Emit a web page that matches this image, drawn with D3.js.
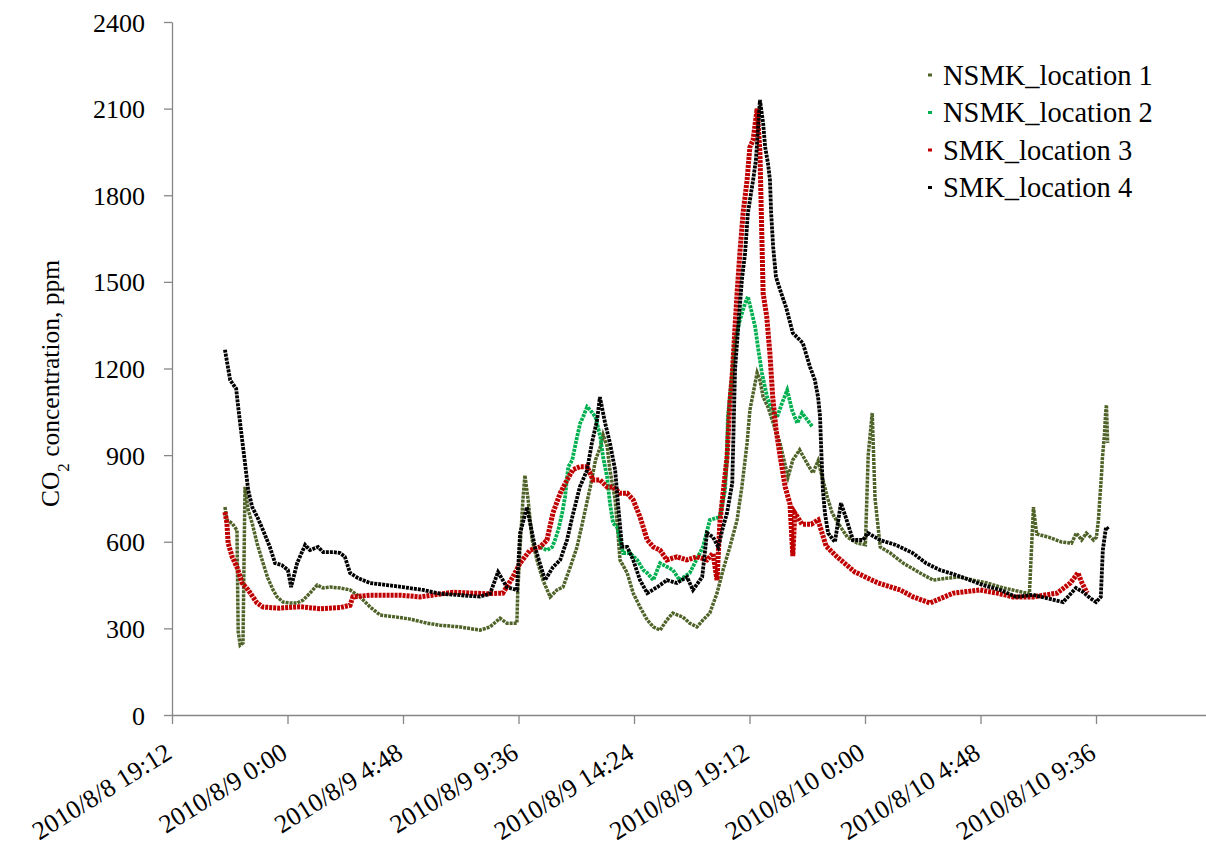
<!DOCTYPE html>
<html>
<head>
<meta charset="utf-8">
<script src="https://cdn.jsdelivr.net/npm/d3@7"></script>
<style>
  body { margin: 0; background: #fff; }
  svg { font-family: "Liberation Serif", "Times New Roman", serif; }
  .axis path, .axis line { stroke: #868686; stroke-width: 1.3; }
  .axis text { fill: #000; }
</style>
</head>
<body>
<div id="app"></div>
<script>
// series names + colours
var seriesNames = ["NSMK_location 1", "NSMK_location 2", "SMK_location 3", "SMK_location 4"];
var seriesColors = ["#4F6228", "#00B050", "#C00000", "#000000"];

// x tick labels (every 4h48)
var tickLabels = ["2010/8/8 19:12", "2010/8/9 0:00", "2010/8/9 4:48", "2010/8/9 9:36", "2010/8/9 14:24",
                  "2010/8/9 19:12", "2010/8/10 0:00", "2010/8/10 4:48", "2010/8/10 9:36"];
var yTicks = [0, 300, 600, 900, 1200, 1500, 1800, 2100, 2400];

// NSMK_location 1
var loc1Times = ["8/8 21:24","8/8 21:29","8/8 21:42","8/8 21:54","8/8 21:57","8/8 22:02","8/8 22:09","8/8 22:14","8/8 22:22","8/8 22:32",
  "8/8 22:44","8/8 22:59","8/8 23:11","8/8 23:24","8/8 23:34","8/8 23:49","8/9 0:06","8/9 0:24","8/9 0:39","8/9 0:56",
  "8/9 1:14","8/9 1:29","8/9 1:46","8/9 2:11","8/9 2:36","8/9 3:01","8/9 3:26","8/9 3:51","8/9 4:33","8/9 5:06",
  "8/9 5:48","8/9 6:20","8/9 7:10","8/9 8:00","8/9 8:25","8/9 8:50","8/9 9:07","8/9 9:32","8/9 9:34","8/9 9:40",
  "8/9 9:47","8/9 9:52","8/9 10:00","8/9 10:10","8/9 10:22","8/9 10:37","8/9 10:55","8/9 11:12","8/9 11:27","8/9 11:45",
  "8/9 12:02","8/9 12:17","8/9 12:35","8/9 12:48","8/9 13:00","8/9 13:07","8/9 13:17","8/9 13:24","8/9 13:37","8/9 13:44",
  "8/9 13:49","8/9 14:07","8/9 14:22","8/9 14:39","8/9 14:57","8/9 15:12","8/9 15:29","8/9 15:46","8/9 16:01","8/9 16:26",
  "8/9 16:43","8/9 17:01","8/9 17:16","8/9 17:33","8/9 17:51","8/9 18:06","8/9 18:23","8/9 18:41","8/9 18:53","8/9 19:06",
  "8/9 19:13","8/9 19:31","8/9 19:38","8/9 19:46","8/9 19:58","8/9 20:11","8/9 20:28","8/9 20:48","8/9 21:00","8/9 21:17",
  "8/9 21:35","8/9 21:50","8/9 22:03","8/9 22:26","8/9 22:38","8/9 22:53","8/9 23:16","8/9 23:41","8/10 0:01","8/10 0:08",
  "8/10 0:18","8/10 0:25","8/10 0:38","8/10 1:03","8/10 1:35","8/10 2:17","8/10 2:50","8/10 3:25","8/10 3:57","8/10 4:30",
  "8/10 5:05","8/10 5:45","8/10 6:50","8/10 7:00","8/10 7:08","8/10 7:38","8/10 8:10","8/10 8:35","8/10 8:47","8/10 9:00",
  "8/10 9:12","8/10 9:30","8/10 9:37","8/10 9:42","8/10 9:45","8/10 9:50","8/10 9:52","8/10 9:57","8/10 10:00","8/10 10:02","8/10 10:05"];
var loc1Values = [720,675,664,640,290,242,250,790,710,664,
  595,526,474,433,409,391,388,388,398,422,
  450,440,443,440,433,409,374,346,339,332,
  318,311,305,294,305,335,318,318,422,582,
  745,830,745,606,537,467,409,433,443,512,
  582,675,790,883,928,970,930,848,745,630,
  537,492,422,374,329,305,294,329,353,339,
  318,305,329,353,422,502,582,675,790,942,
  1056,1185,1160,1101,1067,1011,942,824,883,918,
  873,838,880,755,700,664,616,595,590,900,
  1046,750,582,561,526,492,467,474,478,467,
  457,440,420,720,627,616,599,595,630,606,
  630,606,616,675,738,838,890,970,1046,1074,942];

// NSMK_location 2
var loc2Times = ["8/9 10:30","8/9 10:47","8/9 11:00","8/9 11:07","8/9 11:15","8/9 11:25","8/9 11:32","8/9 11:40","8/9 11:50","8/9 12:02",
  "8/9 12:10","8/9 12:17","8/9 12:27","8/9 12:35","8/9 12:48","8/9 13:00","8/9 13:07","8/9 13:17","8/9 13:24","8/9 13:32",
  "8/9 13:42","8/9 13:49","8/9 13:57","8/9 14:14","8/9 14:32","8/9 14:47","8/9 14:57","8/9 15:12","8/9 15:29","8/9 16:01",
  "8/9 16:18","8/9 16:43","8/9 17:16","8/9 17:33","8/9 17:58","8/9 18:11","8/9 18:16","8/9 18:18","8/9 18:29","8/9 18:36",
  "8/9 18:48","8/9 19:01","8/9 19:08","8/9 19:18","8/9 19:26","8/9 19:33","8/9 19:43","8/9 19:56","8/9 20:08","8/9 20:21",
  "8/9 20:33","8/9 20:46","8/9 20:58","8/9 21:11","8/9 21:23","8/9 21:48"];
var loc2Values = [582,571,582,606,640,700,755,859,883,963,
  1011,1032,1067,1056,1032,963,893,824,734,664,
  651,606,561,561,537,502,492,467,526,502,
  467,492,582,675,686,779,907,1032,1184,1299,
  1368,1426,1449,1392,1345,1275,1184,1101,1056,1032,
  1080,1125,1056,1011,1046,1000];

// SMK_location 3
var loc3Times = ["8/8 21:24","8/8 21:29","8/8 21:32","8/8 21:42","8/8 21:54","8/8 22:07","8/8 22:22","8/8 22:44","8/8 22:59","8/8 23:41",
  "8/9 0:31","8/9 1:21","8/9 2:11","8/9 2:36","8/9 2:43","8/9 3:26","8/9 4:41","8/9 5:30","8/9 6:53","8/9 8:18",
  "8/9 8:57","8/9 9:22","8/9 9:40","8/9 10:05","8/9 10:30","8/9 10:47","8/9 11:02","8/9 11:20","8/9 11:37","8/9 11:52",
  "8/9 12:09","8/9 12:27","8/9 12:42","8/9 12:59","8/9 13:17","8/9 13:32","8/9 13:49","8/9 14:07","8/9 14:22","8/9 14:39",
  "8/9 14:57","8/9 15:12","8/9 15:29","8/9 15:46","8/9 16:11","8/9 16:36","8/9 17:01","8/9 17:26","8/9 17:41","8/9 17:51",
  "8/9 17:58","8/9 18:06","8/9 18:16","8/9 18:23","8/9 18:29","8/9 18:41","8/9 18:48","8/9 18:56","8/9 19:06","8/9 19:13",
  "8/9 19:21","8/9 19:31","8/9 19:38","8/9 19:46","8/9 19:55","8/9 20:03","8/9 20:10","8/9 20:18","8/9 20:28","8/9 20:41",
  "8/9 20:53","8/9 21:00","8/9 21:05","8/9 21:23","8/9 21:46","8/9 22:03","8/9 22:23","8/9 22:50","8/9 23:35","8/10 0:33",
  "8/10 1:28","8/10 2:00","8/10 2:42","8/10 3:40","8/10 4:47","8/10 5:30","8/10 6:09","8/10 6:59","8/10 7:59","8/10 8:32",
  "8/10 8:51","8/10 9:01","8/10 9:14"];
var loc3Values = [703,664,595,548,512,457,433,388,374,370,
  375,368,372,380,409,415,415,409,425,420,
  422,478,526,571,582,606,700,768,814,850,
  860,860,814,814,790,790,768,768,745,686,
  606,582,571,537,548,537,548,537,560,467,
  664,768,893,1080,1180,1461,1600,1738,1853,1967,
  1991,2100,1950,1460,1380,1250,1100,990,900,790,
  730,550,700,661,661,675,585,548,495,457,
  433,409,388,422,433,422,409,409,422,457,
  492,457,422];

// SMK_location 4
var loc4Times = ["8/8 21:24","8/8 21:37","8/8 21:52","8/8 21:57","8/8 22:07","8/8 22:14","8/8 22:22","8/8 22:32","8/8 22:46","8/8 22:59",
  "8/8 23:16","8/8 23:29","8/8 23:46","8/9 0:01","8/9 0:09","8/9 0:24","8/9 0:44","8/9 0:56","8/9 1:16","8/9 1:29",
  "8/9 1:54","8/9 2:11","8/9 2:23","8/9 2:36","8/9 2:56","8/9 3:26","8/9 4:08","8/9 4:48","8/9 5:38","8/9 6:20",
  "8/9 7:10","8/9 8:00","8/9 8:25","8/9 8:45","8/9 9:07","8/9 9:32","8/9 9:40","8/9 9:57","8/9 10:17","8/9 10:42",
  "8/9 11:02","8/9 11:20","8/9 11:37","8/9 11:50","8/9 12:09","8/9 12:27","8/9 12:39","8/9 12:52","8/9 12:59","8/9 13:12",
  "8/9 13:24","8/9 13:37","8/9 13:44","8/9 13:54","8/9 14:07","8/9 14:22","8/9 14:39","8/9 14:57","8/9 15:22","8/9 15:46",
  "8/9 16:11","8/9 16:36","8/9 16:51","8/9 17:14","8/9 17:26","8/9 17:41","8/9 17:54","8/9 18:06","8/9 18:16","8/9 18:29",
  "8/9 18:36","8/9 18:53","8/9 19:01","8/9 19:08","8/9 19:21","8/9 19:28","8/9 19:38","8/9 19:46","8/9 19:51","8/9 19:58",
  "8/9 20:03","8/9 20:06","8/9 20:11","8/9 20:18","8/9 20:31","8/9 20:43","8/9 21:00","8/9 21:25","8/9 21:43","8/9 21:55",
  "8/9 22:03","8/9 22:08","8/9 22:10","8/9 22:15","8/9 22:20","8/9 22:28","8/9 22:45","8/9 23:00","8/9 23:12","8/9 23:30",
  "8/9 23:55","8/10 0:07","8/10 0:37","8/10 1:17","8/10 1:59","8/10 2:32","8/10 3:07","8/10 3:47","8/10 4:22","8/10 4:54",
  "8/10 5:37","8/10 6:17","8/10 6:59","8/10 7:32","8/10 8:14","8/10 8:46","8/10 9:04","8/10 9:21","8/10 9:36","8/10 9:48",
  "8/10 9:53","8/10 10:01","8/10 10:08"];
var loc4Values = [1265,1160,1130,1067,952,873,779,720,682,640,
  582,526,519,502,443,526,589,571,582,564,
  564,561,548,492,474,457,450,443,433,420,
  415,410,420,495,443,433,630,720,582,467,
  512,537,606,685,790,848,942,1022,1101,1011,
  942,848,734,582,582,537,467,422,443,467,
  457,478,433,478,630,616,582,651,700,803,
  1200,1507,1600,1738,1853,1922,2130,2050,1967,1911,
  1853,1738,1621,1517,1461,1413,1323,1288,1205,1160,
  1101,1032,950,779,700,630,599,734,685,606,
  606,630,606,589,561,526,502,485,467,450,
  433,409,416,405,391,440,426,405,391,409,
  571,651,640];

//SETUP------------------------------------------------------
var parseTime = d3.timeParse("%m/%d %H:%M");
var parseTick = d3.timeParse("%Y/%m/%d %H:%M");
var fixYear = function(d) { var t = parseTime(d); t.setFullYear(2010); return t; };

var serif = '"Liberation Serif", "Times New Roman", serif';
var margin = {top: 22, left: 172};
var width = 1039.5, height = 693;

var x = d3.scaleTime()
  .domain([parseTick("2010/8/8 19:12"), parseTick("2010/8/10 14:24")])
  .range([0, width]);
var y = d3.scaleLinear().domain([0, 2400]).range([height, 0]);

var svg = d3.select("#app").append("svg")
  .attr("width", 1206).attr("height", 852)
  .append("g")
  .attr("transform", "translate(" + margin.left + "," + margin.top + ")");

// y axis
var yAxis = svg.append("g").attr("class", "axis")
  .call(d3.axisLeft(y).tickValues(yTicks).tickSize(8).tickPadding(19).tickSizeOuter(0).tickFormat(d3.format("d")))
  .attr("font-family", serif).attr("font-size", 26);
yAxis.selectAll("text").attr("dy", "0.35em");

// x axis
var tickDates = tickLabels.map(function(d) { return parseTick(d); });
var xAxis = svg.append("g").attr("class", "axis")
  .attr("transform", "translate(0," + height + ")")
  .call(d3.axisBottom(x).tickValues(tickDates).tickSize(9).tickSizeOuter(0).tickFormat(function(d, i) { return tickLabels[i]; }))
  .attr("font-family", serif).attr("font-size", 26);
xAxis.selectAll("text")
  .attr("y", 0).attr("dy", 0)
  .attr("text-anchor", "end")
  .attr("transform", "translate(1,42) rotate(-32)");

// y title
svg.append("text")
  .attr("transform", "translate(-113," + (height / 2 + 15) + ") rotate(-90)")
  .attr("text-anchor", "middle")
  .style("font-size", "25.5px")
  .html('CO<tspan baseline-shift="sub" font-size="17px">2</tspan> concentration, ppm');

//LINES------------------------------------------------------
var allTimes = [loc1Times, loc2Times, loc3Times, loc4Times];
var allValues = [loc1Values, loc2Values, loc3Values, loc4Values];
var widths = [3.5, 3.8, 5, 3.8];

var line = d3.line()
  .x(function(d) { return x(d.t); })
  .y(function(d) { return y(d.v); });

allTimes.forEach(function(times, i) {
  var data = times.map(function(t, j) { return {t: fixYear(t), v: allValues[i][j]}; });
  svg.append("path")
    .datum(data)
    .attr("fill", "none")
    .attr("stroke", seriesColors[i])
    .attr("stroke-width", widths[i])
    .attr("stroke-dasharray", "3,1")
    .attr("d", line);
});

//LEGEND------------------------------------------------------
var legend = svg.append("g").attr("transform", "translate(756,53)");
seriesNames.forEach(function(name, i) {
  var g = legend.append("g").attr("transform", "translate(0," + (i * 37.5) + ")");
  g.append("rect").attr("x", 0).attr("y", -1.5).attr("width", 4).attr("height", 3).attr("fill", seriesColors[i]);
  g.append("text").attr("x", 15).attr("y", 9.5).style("font-size", "28.5px").text(name);
});
</script>
</body>
</html>
